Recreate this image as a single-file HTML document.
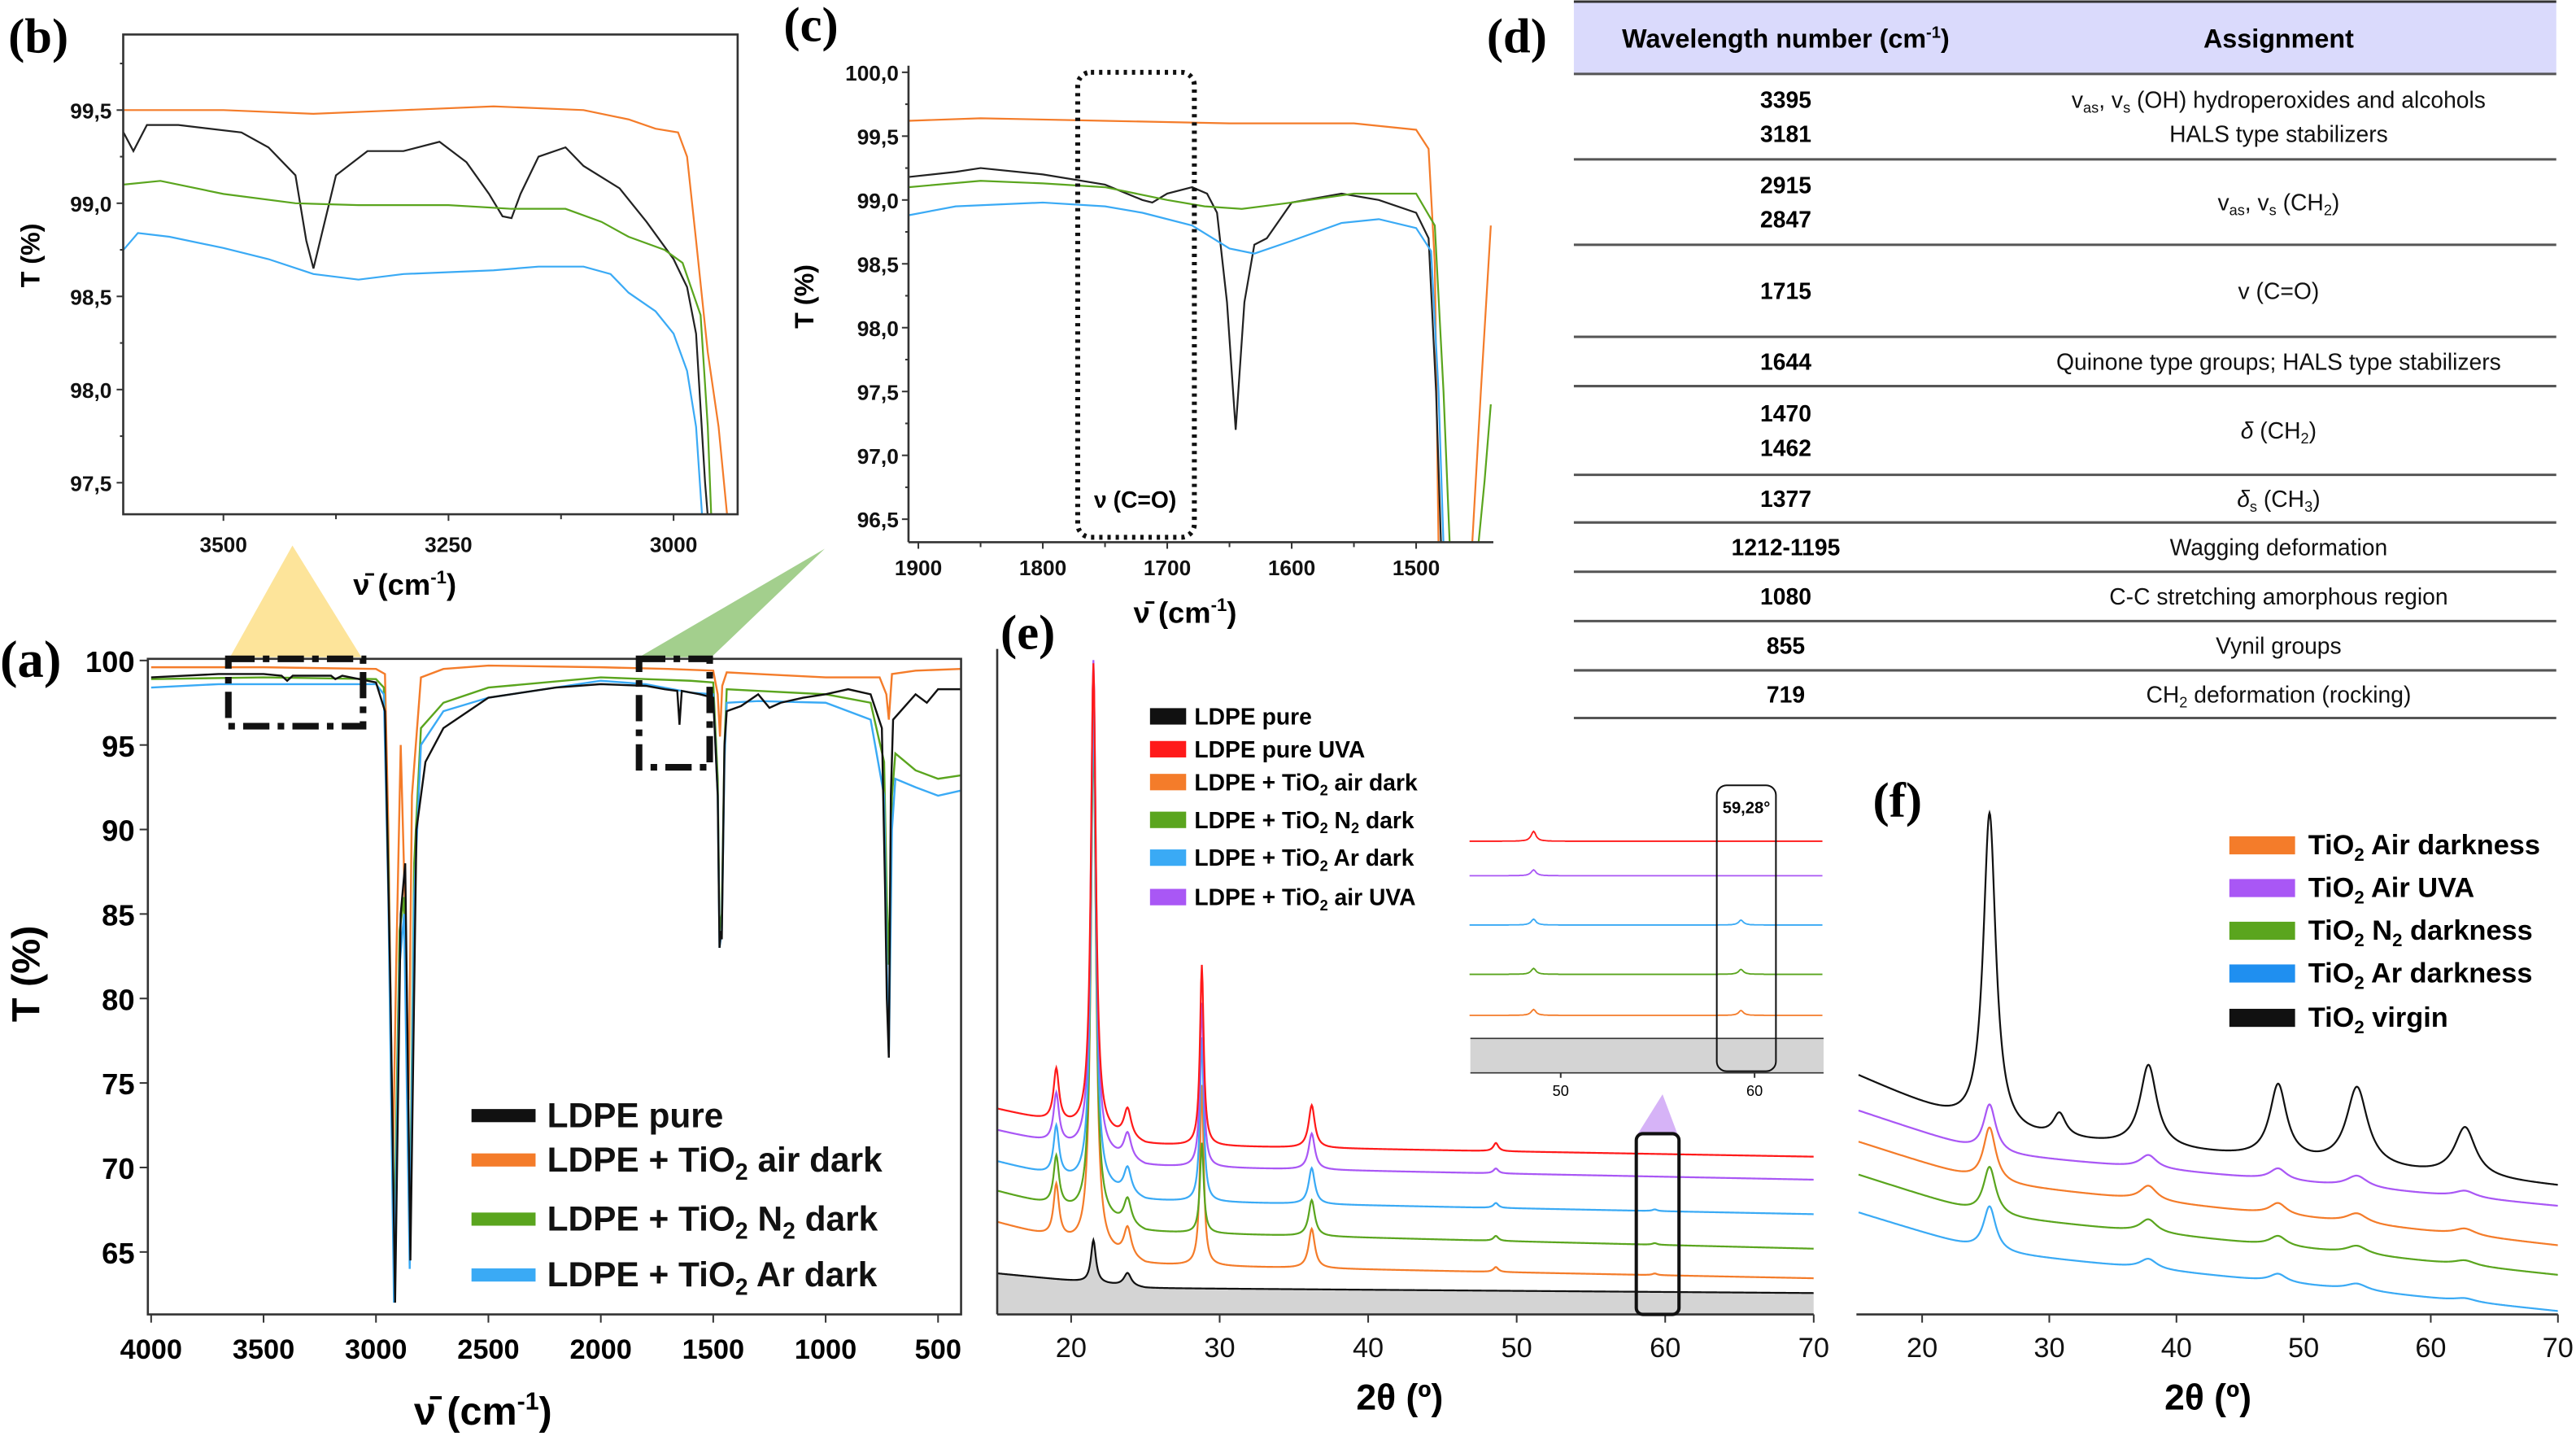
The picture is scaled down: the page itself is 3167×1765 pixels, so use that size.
<!DOCTYPE html>
<html><head><meta charset="utf-8"><style>
html,body{margin:0;padding:0;background:#fff;}
svg{display:block;font-family:"Liberation Sans",Arial,sans-serif;}
.tk{font-size:13px;font-weight:bold;fill:#111;}
.tb{font-size:14px;fill:#111;}
</style></head><body>
<svg id="fig" width="3167" height="1765" viewBox="0 0 1568 874" preserveAspectRatio="none" xmlns="http://www.w3.org/2000/svg">
<defs>
<clipPath id="cb"><rect x="75" y="21" width="374" height="292"/></clipPath>
<clipPath id="cc"><rect x="553" y="40" width="356" height="290"/></clipPath>
<clipPath id="ca"><rect x="90" y="400" width="495" height="400"/></clipPath>
<clipPath id="ce"><rect x="607" y="390" width="497" height="410"/></clipPath>
<clipPath id="cf"><rect x="1130" y="440" width="427" height="360"/></clipPath>
</defs>
<g id="root"></g>
</svg>
<script>
// ---------------- DATA ----------------
const seriesNamesFTIR = ['LDPE pure','LDPE + TiO2 air dark','LDPE + TiO2 N2 dark','LDPE + TiO2 Ar dark'];
const ftirColors = ['#111111','#f47c2a','#5aa51e','#3aaaf5'];
// panel (a) keypoints [wavenumber, T%]
const aBlack = [[4000,99.0],[3700,99.2],[3500,99.2],[3420,99.1],[3395,98.8],[3370,99.1],[3200,99.1],[3181,98.9],[3150,99.1],[3000,98.7],[2960,97],[2935,80],[2915,62],[2890,85],[2870,88],[2847,64.5],[2820,90],[2780,94],[2700,96],[2500,97.8],[2200,98.4],[2000,98.6],[1800,98.5],[1715,98.3],[1660,98.2],[1650,96.2],[1640,98.2],[1560,98],[1500,97.8],[1480,92],[1472,83],[1466,84],[1462,83.5],[1450,95],[1440,97],[1377,97.3],[1300,98],[1250,97.2],[1200,97.5],[1100,97.8],[1000,98],[900,98.3],[800,98],[750,96],[735,86],[728,80],[719,76.5],[710,92],[700,96.5],[600,98],[550,97.5],[500,98.3],[400,98.3]];
const aOrange = [[4000,99.6],[3500,99.6],[3000,99.5],[2960,99.2],[2945,90],[2925,70],[2910,82],[2890,95],[2870,85],[2855,74],[2840,92],[2800,99],[2700,99.5],[2500,99.7],[2000,99.6],[1700,99.5],[1500,99.4],[1480,98],[1470,95.5],[1460,98.5],[1440,99.3],[1300,99.2],[1000,99],[760,99],[730,98],[719,96.5],[705,99.2],[600,99.4],[400,99.5]];
const aGreen = [[4000,98.9],[3500,99.0],[3000,98.9],[2965,98.4],[2945,88],[2920,65],[2895,84],[2875,86],[2850,66],[2830,88],[2800,96],[2700,97.5],[2500,98.4],[2000,99],[1800,98.9],[1600,98.8],[1500,98.7],[1480,93],[1472,84],[1462,85],[1450,95],[1440,98.3],[1300,98.2],[1000,98],[800,97.5],[740,94],[728,86],[719,82],[705,92],[690,94.5],[600,93.5],[500,93],[400,93.2]];
const aBlue = [[4000,98.4],[3700,98.6],[3000,98.6],[2965,98],[2945,86],[2920,62],[2895,82],[2875,85],[2850,64],[2830,86],[2800,95],[2700,97],[2500,97.8],[2000,98.8],[1800,98.6],[1600,98.1],[1500,98],[1480,92],[1472,83],[1462,84],[1450,94],[1440,97.5],[1300,97.6],[1000,97.5],[800,96.5],[740,92],[728,82],[719,76.5],[705,90],[690,93],[600,92.5],[500,92],[400,92.3]];
// panel (b) keypoints
const bBlack = [[3611,99.38],[3600,99.28],[3585,99.42],[3550,99.42],[3480,99.38],[3450,99.30],[3420,99.15],[3408,98.8],[3400,98.65],[3390,98.85],[3375,99.15],[3340,99.28],[3300,99.28],[3260,99.33],[3230,99.22],[3205,99.05],[3190,98.93],[3180,98.92],[3170,99.05],[3150,99.25],[3120,99.3],[3100,99.2],[3060,99.08],[3030,98.9],[3000,98.7],[2985,98.55],[2975,98.3],[2965,97.5],[2960,97.2]];
const bOrange = [[3611,99.5],[3500,99.5],[3400,99.48],[3300,99.5],[3200,99.52],[3100,99.5],[3050,99.45],[3020,99.4],[2995,99.38],[2985,99.25],[2975,98.8],[2962,98.2],[2950,97.8],[2940,97.3]];
const bGreen = [[3611,99.1],[3570,99.12],[3500,99.05],[3420,99.0],[3350,98.99],[3250,98.99],[3180,98.97],[3120,98.97],[3080,98.9],[3050,98.82],[3010,98.75],[2990,98.68],[2970,98.4],[2962,97.8],[2958,97.3]];
const bBlue = [[3611,98.75],[3595,98.84],[3560,98.82],[3500,98.76],[3450,98.7],[3400,98.62],[3350,98.59],[3300,98.62],[3200,98.64],[3150,98.66],[3100,98.66],[3070,98.62],[3050,98.52],[3020,98.42],[3000,98.3],[2985,98.1],[2975,97.8],[2968,97.3]];
// panel (c) keypoints
const cBlack = [[1908,99.18],[1870,99.22],[1850,99.25],[1800,99.2],[1750,99.12],[1720,99.0],[1712,98.98],[1700,99.05],[1680,99.1],[1668,99.05],[1660,98.9],[1652,98.2],[1645,97.2],[1638,98.2],[1630,98.65],[1620,98.7],[1600,98.98],[1560,99.05],[1530,99.0],[1500,98.9],[1490,98.7],[1484,97.5],[1480,96.3]];
const cOrange = [[1908,99.62],[1850,99.64],[1750,99.62],[1650,99.6],[1550,99.6],[1500,99.55],[1490,99.4],[1485,98.5],[1482,96.3],[1455,96.3],[1448,97.5],[1440,98.8]];
const cGreen = [[1908,99.1],[1850,99.15],[1800,99.13],[1750,99.1],[1700,99.0],[1670,98.95],[1640,98.93],[1600,98.98],[1550,99.05],[1500,99.05],[1485,98.8],[1478,97.5],[1473,96.3],[1450,96.3],[1445,96.8],[1440,97.4]];
const cBlue = [[1908,98.88],[1870,98.95],[1800,98.98],[1750,98.95],[1720,98.9],[1680,98.8],[1650,98.62],[1630,98.58],[1600,98.68],[1560,98.82],[1530,98.85],[1500,98.78],[1488,98.6],[1482,97.5],[1478,96.3]];
// panel (e) XRD
const eNames = ['LDPE pure','LDPE pure UVA','LDPE + TiO2 air dark','LDPE + TiO2 N2 dark','LDPE + TiO2 Ar dark','LDPE + TiO2 air UVA'];
const eColors = ['#111111','#ff1a1a','#f47c2a','#5aa51e','#3aaaf5','#a957f5'];
const ePeakPos = [19.0,21.5,23.8,28.8,36.2,48.6,59.3];
const ePeakW = [0.22,0.2,0.3,0.15,0.25,0.2,0.2];
// heights per series (a.u.)
const eHeights = {
 red:[32,285,18,110,26,5,0],
 purple:[30,300,16,100,22,3,0],
 blue:[30,290,16,100,22,3,1],
 green:[30,295,16,55,22,3,1],
 orange:[32,330,18,110,24,3,1],
 black:[0,26,8,0,0,0,0]
};
const eBaseX = [15,25,70];
const eBase = {red:[125,103,96], purple:[112,90,82], blue:[93,69,61], green:[75,50,40], orange:[56,30,22], black:[25,16,13]};
const eOrder = ['black','orange','green','blue','purple','red'];
const eColorMap = {black:'#111111',red:'#ff1a1a',orange:'#f47c2a',green:'#5aa51e',blue:'#3aaaf5',purple:'#a957f5'};
// panel (f) XRD
const fNames = ['TiO2 Air darkness','TiO2 Air UVA','TiO2 N2 darkness','TiO2 Ar darkness','TiO2 virgin'];
const fPeakPos = [25.3,30.8,37.8,48.0,54.2,62.7];
const fPeakW = [0.6,0.6,0.8,0.8,1.0,1.0];
const fHeights = {black:[195,14,50,45,48,30], purple:[30,0,8,7,7,4], orange:[34,0,9,7,6,4], green:[30,0,8,6,5,3], blue:[28,0,6,5,4,2]};
const fBaseX = [15,25,70];
const fBase = {black:[145,110,78], purple:[124,98,66], orange:[105,80,42], green:[85,60,24], blue:[62,38,2]};
// table
const tableRows = [
 [['3395','3181'],['<tspan>v</tspan><tspan font-size="9" dy="3">as</tspan><tspan dy="-3">, v</tspan><tspan font-size="9" dy="3">s</tspan><tspan dy="-3"> (OH) hydroperoxides and alcohols</tspan>','HALS type stabilizers']],
 [['2915','2847'],['<tspan>v</tspan><tspan font-size="9" dy="3">as</tspan><tspan dy="-3">, v</tspan><tspan font-size="9" dy="3">s</tspan><tspan dy="-3"> (CH</tspan><tspan font-size="9" dy="3">2</tspan><tspan dy="-3">)</tspan>']],
 [['1715'],['v (C=O)']],
 [['1644'],['Quinone type groups; HALS type stabilizers']],
 [['1470','1462'],['<tspan font-style="italic">δ</tspan><tspan> (CH</tspan><tspan font-size="9" dy="3">2</tspan><tspan dy="-3">)</tspan>']],
 [['1377'],['<tspan font-style="italic">δ</tspan><tspan font-size="9" dy="3">s</tspan><tspan dy="-3"> (CH</tspan><tspan font-size="9" dy="3">3</tspan><tspan dy="-3">)</tspan>']],
 [['1212-1195'],['Wagging deformation']],
 [['1080'],['C-C stretching amorphous region']],
 [['855'],['Vynil groups']],
 [['719'],['CH<tspan font-size="9" dy="3">2</tspan><tspan dy="-3"> deformation (rocking)</tspan>']]
];
const tableLines = [45,97,149,205,235,289,318,348,378,408,437];

// ---------------- HELPERS ----------------
const NS='http://www.w3.org/2000/svg';
const root=document.getElementById('root');
function el(tag,attrs,parent){const e=document.createElementNS(NS,tag);for(const k in attrs)e.setAttribute(k,attrs[k]);(parent||root).appendChild(e);return e;}
function txt(x,y,s,attrs,parent){const e=el('text',Object.assign({x:x,y:y},attrs||{}),parent);e.innerHTML=s;return e;}
function lin(d0,d1,r0,r1){return v=>r0+(v-d0)*(r1-r0)/(d1-d0);}
function pathFrom(pts,xf,yf){return pts.map((p,i)=>(i?'L':'M')+xf(p[0]).toFixed(2)+','+yf(p[1]).toFixed(2)).join(' ');}
function interp(xs,ys,x){if(x<=xs[0])return ys[0];for(let i=1;i<xs.length;i++){if(x<=xs[i]){const t=(x-xs[i-1])/(xs[i]-xs[i-1]);return ys[i-1]+t*(ys[i]-ys[i-1]);}}return ys[ys.length-1];}
function lor(x,pos,w,h){let s=0;for(let i=0;i<pos.length;i++){const d=(x-pos[i])/w[i];s+=h[i]/(1+d*d);}return s;}

// ---------------- PANEL (b) ----------------
(function(){
 const g=el('g',{});  
 const xf=lin(3500,3250,136,273), yf=lin(99.5,99.0,67,123.7);
 const cl=el('g',{'clip-path':'url(#cb)'},g);
 [bOrange,bBlack,bGreen,bBlue].forEach((s,i)=>{const cols=['#f47c2a','#222','#5aa51e','#3aaaf5'];const p=el('path',{d:pathFrom(s,xf,yf),fill:'none',stroke:cols[i],'stroke-width':1.1},cl);});
 el('rect',{x:75,y:21,width:374,height:292,fill:'none',stroke:'#333','stroke-width':1.3},g);
 [99.5,99.0,98.5,98.0,97.5].forEach(v=>{el('line',{x1:71,x2:75,y1:yf(v),y2:yf(v),stroke:'#333'},g);txt(68,yf(v)+5,v.toFixed(1).replace('.',','),{'text-anchor':'end',class:'tk'},g);});
 [99.75,99.25,98.75,98.25,97.75].forEach(v=>el('line',{x1:73,x2:75,y1:yf(v),y2:yf(v),stroke:'#333'},g));
 [3500,3250,3000].forEach(v=>{el('line',{x1:xf(v),x2:xf(v),y1:313,y2:317,stroke:'#333'},g);txt(xf(v),336,v,{'text-anchor':'middle',class:'tk'},g);});
 [3375,3125].forEach(v=>el('line',{x1:xf(v),x2:xf(v),y1:313,y2:316,stroke:'#333'},g));
 txt(5,32,'(b)',{'font-family':'Liberation Serif,serif','font-weight':'bold','font-size':30},g);
 txt(0,0,'T (%)',{transform:'translate(24,175) rotate(-90)','font-weight':'bold','font-size':16},g);
 txt(215,362,'ν̄ (cm<tspan dy="-7" font-size="11">-1</tspan><tspan dy="7">)</tspan>',{'font-weight':'bold','font-size':18},g);
})();

// ---------------- PANEL (c) ----------------
(function(){
 const g=el('g',{});  
 const xf=lin(1900,1500,559,862), yf=lin(100,96.5,44,316);
 const cl=el('g',{'clip-path':'url(#cc)'},g);
 [cOrange,cBlack,cGreen,cBlue].forEach((s,i)=>{const cols=['#f47c2a','#222','#5aa51e','#3aaaf5'];const p=el('path',{d:pathFrom(s,xf,yf),fill:'none',stroke:cols[i],'stroke-width':1.1},cl);});
 el('line',{x1:553,x2:553,y1:40,y2:330,stroke:'#333','stroke-width':1.3},g);
 el('line',{x1:553,x2:909,y1:330,y2:330,stroke:'#333','stroke-width':1.3},g);
 for(let v=100;v>=96.5;v-=0.5){el('line',{x1:549,x2:553,y1:yf(v),y2:yf(v),stroke:'#333'},g);txt(547,yf(v)+5,v.toFixed(1).replace('.',','),{'text-anchor':'end',class:'tk'},g);}
 for(let v=99.75;v>96.5;v-=0.5)el('line',{x1:551,x2:553,y1:yf(v),y2:yf(v),stroke:'#333'},g);
 [1900,1800,1700,1600,1500].forEach(v=>{el('line',{x1:xf(v),x2:xf(v),y1:330,y2:334,stroke:'#333'},g);txt(xf(v),350,v,{'text-anchor':'middle',class:'tk'},g);});
 [1850,1750,1650,1550].forEach(v=>el('line',{x1:xf(v),x2:xf(v),y1:330,y2:333,stroke:'#333'},g));
 const box=el('rect',{x:656,y:44,width:71,height:283,rx:8,fill:'none',stroke:'#111','stroke-width':3,'stroke-dasharray':'2 3'},g);
 txt(691,309,'ν (C=O)',{'text-anchor':'middle','font-weight':'bold','font-size':14},g);
 txt(477,25,'(c)',{'font-family':'Liberation Serif,serif','font-weight':'bold','font-size':30},g);
 txt(0,0,'T (%)',{transform:'translate(495,200) rotate(-90)','font-weight':'bold','font-size':16},g);
 txt(690,379,'ν̄ (cm<tspan dy="-7" font-size="11">-1</tspan><tspan dy="7">)</tspan>',{'font-weight':'bold','font-size':18},g);
})();

// ---------------- PANEL (a) ----------------
(function(){
 const g=el('g',{});  
 const xf=lin(4000,500,92,571), yf=lin(100,65,402,762);
 // zoom triangles
 const t1=el('polygon',{points:'140,400 220,400 178,332',fill:'#fde49a'},g);
 const t2=el('polygon',{points:'389,400 433,400 502,334',fill:'#a3cf8d'},g);
 const cl=el('g',{'clip-path':'url(#ca)'},g);
 [aOrange,aGreen,aBlue,aBlack].forEach((s,i)=>{const cols=['#f47c2a','#5aa51e','#3aaaf5','#111'];const p=el('path',{d:pathFrom(s,xf,yf),fill:'none',stroke:cols[i],'stroke-width':1.2},cl);});
 el('rect',{x:90,y:401,width:495,height:399,fill:'none',stroke:'#333','stroke-width':1.3},g);
 el('rect',{x:139,y:401,width:82,height:41,fill:'none',stroke:'#111','stroke-width':4,'stroke-dasharray':'16 5 4 5'},g);
 el('rect',{x:389,y:401,width:43,height:66,fill:'none',stroke:'#111','stroke-width':4,'stroke-dasharray':'16 5 4 5'},g);
 [100,95,90,85,80,75,70,65].forEach(v=>{el('line',{x1:85,x2:90,y1:yf(v),y2:yf(v),stroke:'#333'},g);txt(82,yf(v)+7,v,{'text-anchor':'end','font-weight':'bold','font-size':18},g);});
 [4000,3500,3000,2500,2000,1500,1000,500].forEach(v=>{el('line',{x1:xf(v),x2:xf(v),y1:800,y2:805,stroke:'#333'},g);txt(xf(v),827,v,{'text-anchor':'middle','font-weight':'bold','font-size':17},g);});
 txt(0,412,'(a)',{'font-family':'Liberation Serif,serif','font-weight':'bold','font-size':32},g);
 txt(0,0,'T (%)',{transform:'translate(24,622) rotate(-90)','font-weight':'bold','font-size':24},g);
 txt(252,867,'ν̄ (cm<tspan dy="-9" font-size="15">-1</tspan><tspan dy="9">)</tspan>',{'font-weight':'bold','font-size':24},g);
 const legY=[679,706,742,776];
 const legT=['LDPE pure','LDPE + TiO<tspan font-size="14" dy="5">2</tspan><tspan dy="-5"> air dark</tspan>','LDPE + TiO<tspan font-size="14" dy="5">2</tspan><tspan dy="-5"> N</tspan><tspan font-size="14" dy="5">2</tspan><tspan dy="-5"> dark</tspan>','LDPE + TiO<tspan font-size="14" dy="5">2</tspan><tspan dy="-5"> Ar dark</tspan>'];
 legY.forEach((y,i)=>{const l=el('rect',{x:287,y:y-4,width:39,height:8,fill:ftirColors[i]},g);const t=txt(333,y+7,legT[i],{'font-weight':'bold','font-size':21,fill:'#111'},g);});
})();

// ---------------- PANEL (d) TABLE ----------------
(function(){
 const g=el('g',{});  
 const hdr=el('rect',{x:958,y:1,width:598,height:44,fill:'#dadafc'},g);
 el('line',{x1:958,x2:1556,y1:1,y2:1,stroke:'#333','stroke-width':1.5},g);
 txt(1087,29,'Wavelength number (cm<tspan dy="-6" font-size="10">-1</tspan><tspan dy="6">)</tspan>',{'text-anchor':'middle','font-weight':'bold','font-size':16},g);
 txt(1387,29,'Assignment',{'text-anchor':'middle','font-weight':'bold','font-size':16},g);
 tableLines.forEach(y=>el('line',{x1:958,x2:1556,y1:y,y2:y,stroke:'#555','stroke-width':1.5},g));
 tableRows.forEach((r,i)=>{
  const y0=tableLines[i],y1=tableLines[i+1],mid=(y0+y1)/2;
  const n=r[0].length; r[0].forEach((s,j)=>{txt(1087,mid+5+(j-(n-1)/2)*21,s,{'text-anchor':'middle','font-weight':'bold','font-size':14},g);});
  const m=r[1].length; r[1].forEach((s,j)=>{const t=txt(1387,mid+5+(j-(m-1)/2)*21,s,{'text-anchor':'middle','class':'tb'},g);});
 });
 txt(905,32,'(d)',{'font-family':'Liberation Serif,serif','font-weight':'bold','font-size':30},g);
})();

// ---------------- PANEL (e) ----------------
(function(){
 const g=el('g',{});  
 const xf=lin(20,70,652,1104), yf=v=>800-v;
 const cl=el('g',{'clip-path':'url(#ce)'},g);
 eOrder.forEach(k=>{
  const pts=[];for(let x=15;x<=70;x+=0.05){pts.push([x,interp(eBaseX,eBase[k],x)+lor(x,ePeakPos,ePeakW,eHeights[k])]);}
  if(k==='black'){const f=el('path',{d:pathFrom(pts,xf,yf)+' L'+xf(70)+',800 L'+xf(15)+',800 Z',fill:'#d4d4d4',stroke:'none'},cl);}
  const p=el('path',{d:pathFrom(pts,xf,yf),fill:'none',stroke:eColorMap[k],'stroke-width':1.1},cl);
  
 });
 el('line',{x1:607,x2:607,y1:395,y2:800,stroke:'#333','stroke-width':1.3},g);
 el('line',{x1:607,x2:1104,y1:800,y2:800,stroke:'#333','stroke-width':1.3},g);
 [20,30,40,50,60,70].forEach(v=>{el('line',{x1:xf(v),x2:xf(v),y1:800,y2:805,stroke:'#333'},g);txt(xf(v),826,v,{'text-anchor':'middle','font-size':17,fill:'#111'},g);});
 // inset
 const ix=lin(50,60,950,1068);
 const inset=el('g',{},g);
 el('rect',{x:895,y:632,width:215,height:21,fill:'#d4d4d4'},inset);
 el('line',{x1:895,x2:1110,y1:632,y2:632,stroke:'#333','stroke-width':0.8},inset);
 el('line',{x1:895,x2:1110,y1:653,y2:653,stroke:'#333','stroke-width':0.8},inset);
 const insetY={red:512,purple:533,blue:563,green:593,orange:618};
 Object.keys(insetY).forEach(k=>{const pts=[];for(let x=45.3;x<=63.5;x+=0.05){pts.push([x,insetY[k]-lor(x,[48.6,59.3],[0.15,0.15],[eHeights[k][5]*1.2,eHeights[k][6]*3])]);}
  el('path',{d:pts.map((p,i)=>(i?'L':'M')+ix(p[0]).toFixed(1)+','+p[1].toFixed(1)).join(' '),fill:'none',stroke:eColorMap[k],'stroke-width':0.9},inset);});
 el('rect',{x:1045,y:478,width:36,height:174,rx:6,fill:'none',stroke:'#111','stroke-width':1},inset);
 txt(1063,495,'59,28°',{'text-anchor':'middle','font-size':10,'font-weight':'bold'},inset);
 [50,60].forEach(v=>{el('line',{x1:ix(v),x2:ix(v),y1:653,y2:656,stroke:'#333'},inset);txt(ix(v),667,v,{'text-anchor':'middle','font-size':9},inset);});
 el('polygon',{points:'997,690 1021,690 1012,666',fill:'#d6b3f7'},g);
 const rb=el('rect',{x:996,y:690,width:26,height:110,rx:4,fill:'none',stroke:'#111','stroke-width':2},g);
 // legend
 const ly=[436,456,476,499,522,546];
 const lt=['LDPE pure','LDPE pure UVA','LDPE + TiO<tspan font-size="9" dy="3">2</tspan><tspan dy="-3"> air dark</tspan>','LDPE + TiO<tspan font-size="9" dy="3">2</tspan><tspan dy="-3"> N</tspan><tspan font-size="9" dy="3">2</tspan><tspan dy="-3"> dark</tspan>','LDPE + TiO<tspan font-size="9" dy="3">2</tspan><tspan dy="-3"> Ar dark</tspan>','LDPE + TiO<tspan font-size="9" dy="3">2</tspan><tspan dy="-3"> air UVA</tspan>'];
 ly.forEach((y,i)=>{const r=el('rect',{x:700,y:y-5,width:22,height:10,fill:eColors[i]},g);const t=txt(727,y+5,lt[i],{'font-weight':'bold','font-size':14},g);});
 txt(609,395,'(e)',{'font-family':'Liberation Serif,serif','font-weight':'bold','font-size':30},g);
 txt(852,858,'2θ (º)',{'text-anchor':'middle','font-weight':'bold','font-size':22},g);
})();

// ---------------- PANEL (f) ----------------
(function(){
 const g=el('g',{});  
 const xf=lin(20,70,1170,1557), yf=v=>800-v;
 const cl=el('g',{'clip-path':'url(#cf)'},g);
 ['blue','green','orange','purple','black'].forEach(k=>{
  const pts=[];for(let x=15;x<=70;x+=0.05){pts.push([x,interp(fBaseX,fBase[k],x)+lor(x,fPeakPos,fPeakW,fHeights[k])]);}
  const p=el('path',{d:pathFrom(pts,xf,yf),fill:'none',stroke:eColorMap[k==='blue'?'blue':k],'stroke-width':1.1},cl);
  
 });
 el('line',{x1:1130,x2:1557,y1:800,y2:800,stroke:'#333','stroke-width':1.3},g);
 [20,30,40,50,60,70].forEach(v=>{el('line',{x1:xf(v),x2:xf(v),y1:800,y2:805,stroke:'#333'},g);txt(xf(v),826,v,{'text-anchor':'middle','font-size':17,fill:'#111'},g);});
 const ly=[514,540,566,592,619];
 const lc=['#f47c2a','#a957f5','#5aa51e','#1f8ff0','#111'];
 const lt=['TiO<tspan font-size="11" dy="4">2</tspan><tspan dy="-4"> Air darkness</tspan>','TiO<tspan font-size="11" dy="4">2</tspan><tspan dy="-4"> Air UVA</tspan>','TiO<tspan font-size="11" dy="4">2</tspan><tspan dy="-4"> N</tspan><tspan font-size="11" dy="4">2</tspan><tspan dy="-4"> darkness</tspan>','TiO<tspan font-size="11" dy="4">2</tspan><tspan dy="-4"> Ar darkness</tspan>','TiO<tspan font-size="11" dy="4">2</tspan><tspan dy="-4"> virgin</tspan>'];
 ly.forEach((y,i)=>{const r=el('rect',{x:1357,y:y-5,width:40,height:11,fill:lc[i]},g);const t=txt(1405,y+6,lt[i],{'font-weight':'bold','font-size':17},g);});
 txt(1140,497,'(f)',{'font-family':'Liberation Serif,serif','font-weight':'bold','font-size':30},g);
 txt(1344,858,'2θ (º)',{'text-anchor':'middle','font-weight':'bold','font-size':22},g);
})();
</script>
</body></html>
